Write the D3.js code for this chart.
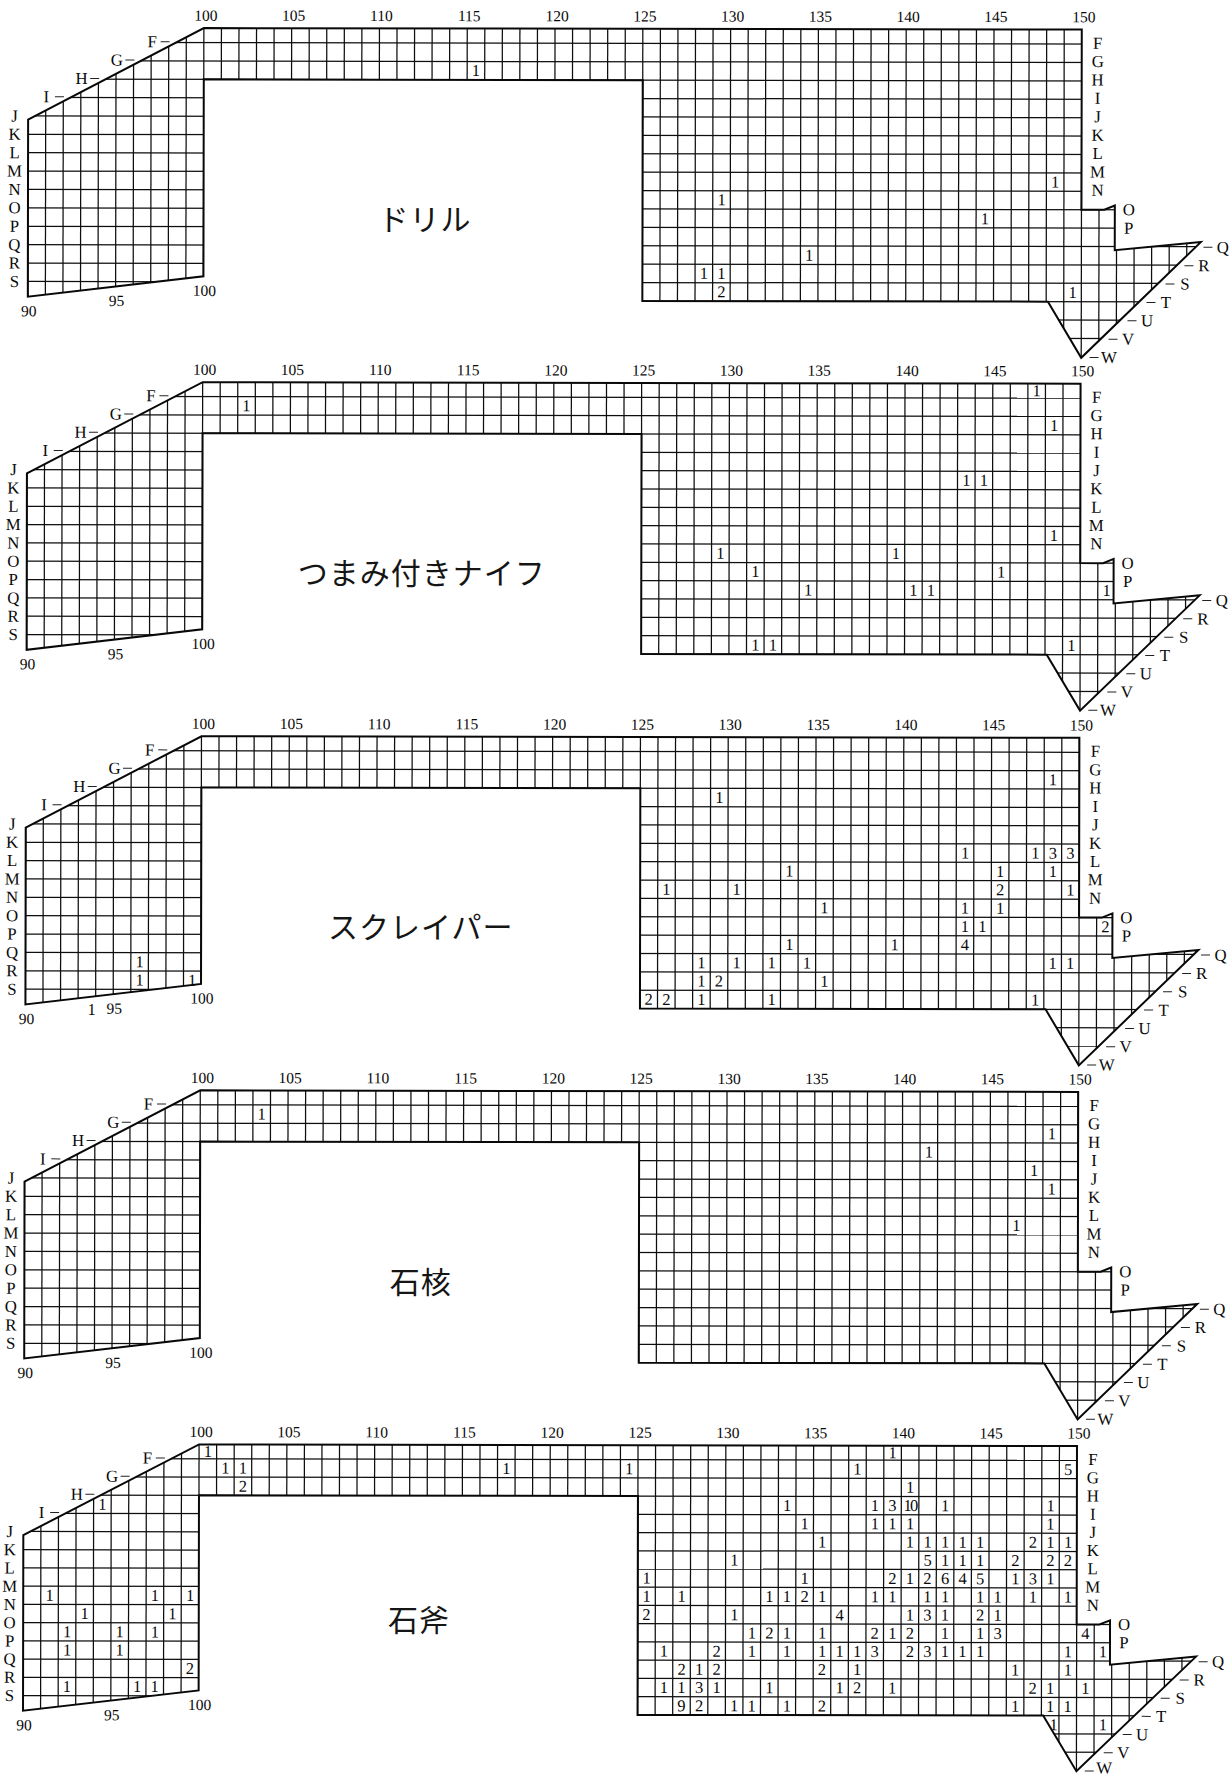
<!DOCTYPE html>
<html lang="ja">
<head>
<meta charset="utf-8">
<script src="https://cdn.jsdelivr.net/npm/d3@7/dist/d3.min.js"></script>
<style>
html,body{margin:0;padding:0;background:#fff}
svg{display:block}
text{fill:#0a0a0a;font-family:"Liberation Serif",serif}
.ttl{font-family:"Noto Sans CJK JP",sans-serif;font-weight:400;fill:#151515}
</style>
</head>
<body>
<svg id="c" width="1232" height="1777"></svg>
<script>
// ---- data ----
const rowLetters = ["F","G","H","I","J","K","L","M","N","O","P","Q","R","S","T","U","V","W"];
const topColumnLabels = [100,105,110,115,120,125,130,135,140,145,150];
const bottomColumnLabels = [90,95,100];
const upperLeftRows = ["F","G","H","I"];
const leftRows = ["J","K","L","M","N","O","P","Q","R","S"];
const rightRows = ["F","G","H","I","J","K","L","M","N"];
const notchRows = ["O","P"];
const diagonalRows = ["Q","R","S","T","U","V","W"];
const titles = ["ドリル","つまみ付きナイフ","スクレイパー","石核","石斧"];

// [column, row (top line of the cell, "E" = the short top band), count]
const drill = [[115,"G",1],[148,"M",1],[129,"N",1],[144,"O",1],[134,"Q",1],[128,"R",1],[129,"R",1],[129,"S",2],[149,"S",1]];
const knife = [[102,"F",1],[147,"E",1],[148,"G",1],[143,"J",1],[144,"J",1],[148,"M",1],[129,"N",1],[139,"N",1],[131,"O",1],[145,"O",1],[134,"P",1],[140,"P",1],[141,"P",1],[151,"P",1],[131,"S",1],[132,"S",1],[149,"S",1]];
const scraper = [[96,"Q",1],[96,"R",1],[99,"R",1],[148,"G",1],[129,"H",1],[143,"K",1],[147,"K",1],[148,"K",3],[149,"K",3],[133,"L",1],[145,"L",1],[148,"L",1],[126,"M",1],[130,"M",1],[145,"M",2],[149,"M",1],[135,"N",1],[143,"N",1],[145,"N",1],[143,"O",1],[144,"O",1],[151,"O",2],[133,"P",1],[139,"P",1],[143,"P",4],[128,"Q",1],[130,"Q",1],[132,"Q",1],[134,"Q",1],[148,"Q",1],[149,"Q",1],[128,"R",1],[129,"R",2],[135,"R",1],[125,"S",2],[126,"S",2],[128,"S",1],[132,"S",1],[147,"S",1]];
const scraperOutside = [[93.27,14.1,1]]; // the count printed just below the outline
const core = [[103,"F",1],[148,"G",1],[141,"H",1],[147,"I",1],[148,"J",1],[146,"L",1]];
const axe = [[100,"E",1],[101,"F",1],[102,"F",1],[102,"G",2],[94,"H",1],[91,"M",1],[97,"M",1],[99,"M",1],[93,"N",1],[98,"N",1],[92,"O",1],[95,"O",1],[97,"O",1],[92,"P",1],[95,"P",1],[99,"Q",2],[92,"R",1],[96,"R",1],[97,"R",1],
[117,"F",1],[124,"F",1],[139,"E",1],[137,"F",1],[149,"F",5],[140,"G",1],
[133,"H",1],[138,"H",1],[139,"H",3],[140,"H",10],[142,"H",1],[148,"H",1],
[134,"I",1],[138,"I",1],[139,"I",1],[140,"I",1],[148,"I",1],
[135,"J",1],[140,"J",1],[141,"J",1],[142,"J",1],[143,"J",1],[144,"J",1],[147,"J",2],[148,"J",1],[149,"J",1],
[130,"K",1],[141,"K",5],[142,"K",1],[143,"K",1],[144,"K",1],[146,"K",2],[148,"K",2],[149,"K",2],
[125,"L",1],[134,"L",1],[139,"L",2],[140,"L",1],[141,"L",2],[142,"L",6],[143,"L",4],[144,"L",5],[146,"L",1],[147,"L",3],[148,"L",1],
[125,"M",1],[127,"M",1],[132,"M",1],[133,"M",1],[134,"M",2],[135,"M",1],[138,"M",1],[139,"M",1],[141,"M",1],[142,"M",1],[144,"M",1],[145,"M",1],[147,"M",1],[149,"M",1],
[125,"N",2],[130,"N",1],[136,"N",4],[140,"N",1],[141,"N",3],[142,"N",1],[144,"N",2],[145,"N",1],
[131,"O",1],[132,"O",2],[133,"O",1],[135,"O",1],[138,"O",2],[139,"O",1],[140,"O",2],[142,"O",1],[144,"O",1],[145,"O",3],[150,"O",4],
[126,"P",1],[129,"P",2],[131,"P",1],[133,"P",1],[135,"P",1],[136,"P",1],[137,"P",1],[138,"P",3],[140,"P",2],[141,"P",3],[142,"P",1],[143,"P",1],[144,"P",1],[149,"P",1],[151,"P",1],
[127,"Q",2],[128,"Q",1],[129,"Q",2],[135,"Q",2],[137,"Q",1],[146,"Q",1],[149,"Q",1],
[126,"R",1],[127,"R",1],[128,"R",3],[129,"R",1],[132,"R",1],[136,"R",1],[137,"R",2],[139,"R",1],[147,"R",2],[148,"R",1],[150,"R",1],
[127,"S",9],[128,"S",2],[130,"S",1],[131,"S",1],[133,"S",1],[135,"S",2],[146,"S",1],[148,"S",1],[149,"S",1],
[148.2,"T",1],[151,"T",1]];
const panelCells = [drill,knife,scraper,core,axe];
const panelOutside = [[],[],scraperOutside,[],[]];

// ---- layout ----
const TOP = -0.788;
const gridCols = d3.range(90,157);
const gridLines = d3.range(0,18);
const outline = [[100,TOP],[150,TOP],[150,9],[151.3,9],[151.9,8.77],[151.9,11.2],[156.8,10.75],[150,17.05],[148.1,14],[125,14],[125,2],[100,2],[100,12.7],[90,13.83],[90,4.2]];
const panelShiftX = i => -1.2*i;
const panelShiftY = i => 354.1*i;
const panelStretch = [1,0.996,0.998,0.998,0.991];
const titleX = [425,421.7,420.7,420.7,419];
const titleY = [218.8,573,926.7,1281.7,1620.6];
const letterSize = 16.8, countSize = 16.5, columnSize = 15.5;

const x = d3.scaleLinear().domain([90,150]).range([28,1081.5]);
const svg = d3.select("#c");
const defs = svg.append("defs");

panelCells.forEach((cells,i)=>{
  const s = panelStretch[i];
  const top = 28.8;
  const y = d3.scaleLinear().domain([TOP,0,17]).range([top, top+14.5*s, top+(356.1-top)*s]);
  const rowIdx = r => rowLetters.indexOf(r);
  const g = svg.append("g").attr("transform",`translate(${panelShiftX(i)},${panelShiftY(i)}) rotate(0.1 620 190)`);
  const line = d3.line().x(d=>x(d[0])).y(d=>y(d[1])).curve(d3.curveLinearClosed);

  defs.append("clipPath").attr("id","clip"+i).append("path").attr("d",line(outline));
  const grid = g.append("g").attr("clip-path",`url(#clip${i})`).attr("stroke","#0e0e0e").attr("stroke-width",1.25).attr("fill","none");
  grid.selectAll("line.h").data(gridLines).join("line").attr("class","h")
    .attr("x1",x(90)).attr("x2",x(157)).attr("y1",d=>y(d)).attr("y2",d=>y(d));
  grid.selectAll("line.v").data(gridCols).join("line").attr("class","v")
    .attr("x1",d=>x(d)).attr("x2",d=>x(d)).attr("y1",y(TOP)).attr("y2",y(17.2));
  g.append("path").attr("d",line(outline)).attr("fill","none").attr("stroke","#080808").attr("stroke-width",2).attr("stroke-linejoin","miter");

  const label = (sel,size)=>sel.attr("text-anchor","middle").attr("dy","0.33em").attr("font-size",size);

  // column labels
  label(g.selectAll("text.top").data(topColumnLabels).join("text").attr("class","top")
    .attr("x",d=>x(d)+2).attr("y",y(TOP)-12.5).text(d=>d),columnSize);
  const bottomIdx = c => 13.83+(c-90)*(12.7-13.83)/10;
  label(g.selectAll("text.bot").data(bottomColumnLabels).join("text").attr("class","bot")
    .attr("x",d=>x(d)+1).attr("y",d=>y(bottomIdx(d))+14.5).text(d=>d),columnSize);

  // row labels
  label(g.selectAll("text.left").data(leftRows).join("text").attr("class","left")
    .attr("x",x(90)-13.5).attr("y",d=>y(rowIdx(d))).text(d=>d),letterSize);
  label(g.selectAll("text.right").data(rightRows).join("text").attr("class","right")
    .attr("x",x(150)+16).attr("y",d=>y(rowIdx(d))-1).text(d=>d),letterSize);
  label(g.selectAll("text.notch").data(notchRows).join("text").attr("class","notch")
    .attr("x",x(151.9)+14).attr("y",d=>y(rowIdx(d))).text(d=>d),letterSize);

  // diagonal edge labels with their dashes
  const edgeX = (a,b,yy)=>{const ya=y(a[1]),yb=y(b[1]),xa=x(a[0]),xb=x(b[0]);return xa+(yy-ya)*(xb-xa)/(yb-ya);};
  const ulA=[90,4.2], ulB=[100,TOP], drA=[156.8,10.75], drB=[150,17.05];
  upperLeftRows.forEach(r=>{
    const yy=y(rowIdx(r))-0.8, ex=edgeX(ulA,ulB,yy);
    g.append("line").attr("x1",ex-17).attr("x2",ex-8).attr("y1",yy).attr("y2",yy).attr("stroke","#222").attr("stroke-width",1);
    label(g.append("text").attr("x",ex-25.5).attr("y",yy).text(r),letterSize);
  });
  diagonalRows.forEach(r=>{
    const yy=y(rowIdx(r))+0.6, ex=edgeX(drA,drB,yy);
    g.append("line").attr("x1",ex+8).attr("x2",ex+17).attr("y1",yy).attr("y2",yy).attr("stroke","#222").attr("stroke-width",1);
    const lift = (i===4 && r==="W") ? 3 : 0;
    label(g.append("text").attr("x",ex+27.5).attr("y",yy-lift).text(r),letterSize);
  });

  // counts
  const cellY = r => r==="E" ? y((TOP+0)/2) : y(rowIdx(r)+0.5);
  const num = g.selectAll("text.n").data(cells).join("text").attr("class","n")
    .attr("x",d=>(x(d[0])+x(d[0]+1))/2).attr("y",d=>cellY(d[1])).text(d=>d[2]);
  label(num,countSize).attr("letter-spacing",d=>d[2]>=10?"-1.8":null);
  label(g.selectAll("text.o").data(panelOutside[i]).join("text").attr("class","o")
    .attr("x",d=>(x(d[0])+x(d[0]+1))/2).attr("y",d=>y(d[1])).text(d=>d[2]),countSize);

  // title
  svg.append("text").attr("class","ttl").attr("x",titleX[i]).attr("y",titleY[i]).attr("dy","0.36em")
    .attr("text-anchor","middle").attr("font-size",30).attr("letter-spacing",1).text(titles[i]);
});
</script>
</body>
</html>
